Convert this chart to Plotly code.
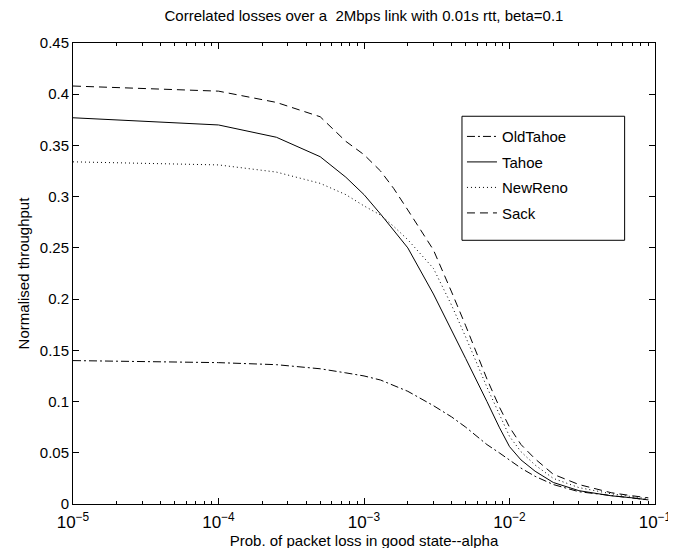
import plotly.graph_objects as go

alpha = [1e-5, 1e-4, 2.5e-4, 5e-4, 7.5e-4, 1e-3, 1.3e-3, 1.6e-3, 2e-3, 3e-3, 4e-3, 5e-3,
         7e-3, 8.5e-3, 1e-2, 1.2e-2, 1.5e-2, 2e-2, 3e-2, 5e-2, 7e-2, 9e-2]

old_tahoe = [0.140, 0.138, 0.136, 0.132, 0.128, 0.125, 0.121, 0.116, 0.110, 0.096, 0.085, 0.075,
             0.058, 0.050, 0.043, 0.035, 0.027, 0.019, 0.012, 0.008, 0.006, 0.004]
tahoe = [0.377, 0.370, 0.358, 0.339, 0.319, 0.302, 0.283, 0.267, 0.250, 0.205, 0.170, 0.142,
         0.100, 0.075, 0.056, 0.043, 0.032, 0.021, 0.013, 0.008, 0.006, 0.004]
new_reno = [0.334, 0.331, 0.324, 0.313, 0.302, 0.291, 0.282, 0.271, 0.258, 0.230, 0.194, 0.163,
            0.114, 0.087, 0.066, 0.051, 0.038, 0.025, 0.016, 0.010, 0.007, 0.005]
sack = [0.408, 0.403, 0.392, 0.378, 0.354, 0.341, 0.325, 0.308, 0.287, 0.248, 0.207, 0.174,
        0.122, 0.095, 0.075, 0.058, 0.044, 0.029, 0.019, 0.011, 0.008, 0.006]

series = [
    ("OldTahoe", old_tahoe, "8px,3px,2px,3px"),
    ("Tahoe", tahoe, "solid"),
    ("NewReno", new_reno, "1px,3px"),
    ("Sack", sack, "8px,5px"),
]

x_tickvals = [1e-5, 1e-4, 1e-3, 1e-2, 1e-1]
x_ticktext = ["10<sup>−5</sup>", "10<sup>−4</sup>", "10<sup>−3</sup>", "10<sup>−2</sup>", "10<sup>−1</sup>"]

title_text = "Correlated losses over a&nbsp; 2Mbps link with 0.01s rtt, beta=0.1"
x_title = "Prob. of packet loss in good state--alpha"
y_title = "Normalised throughput"

FONT = "Liberation Sans, Arial, Helvetica, sans-serif"

fig = go.Figure()
for i, (name, vals, dash) in enumerate(series):
    fig.add_trace(go.Scatter(
        x=alpha, y=vals, mode="lines", name=name, legendgroup=f"g{i}",
        line=dict(color="black", width=1, dash=dash),
    ))

# plot-area pixel geometry
L, R, T, B = 65, 659, 35, 507
W, H = 676, 548
pw, ph = R - L, B - T

def px_x(p):
    return (p - L) / pw

def px_y(p):
    return (B - p) / ph

fig.add_shape(type="rect", xref="paper", yref="paper",
              x0=px_x(462), x1=px_x(628), y0=px_y(237), y1=px_y(110),
              line=dict(color="black", width=1), fillcolor="white", layer="above")

fig.update_layout(
    width=W, height=H,
    margin=dict(l=L, r=W - R, t=T, b=H - B),
    paper_bgcolor="white", plot_bgcolor="white",
    font=dict(family=FONT, size=14, color="black"),
    title=dict(text=title_text, x=0.5, xref="paper", xanchor="center",
               y=1 - 8 / H, yref="container", yanchor="middle",
               font=dict(size=15, family=FONT, color="black")),
    showlegend=True,
    legend=dict(x=px_x(462), y=px_y(114), xanchor="left", yanchor="top",
                bgcolor="rgba(0,0,0,0)", borderwidth=0, tracegroupgap=3,
                font=dict(size=15, family=FONT, color="black")),
    xaxis=dict(type="log", range=[-5, -1],
               tickmode="array", tickvals=x_tickvals, ticktext=x_ticktext,
               showline=True, linecolor="black", linewidth=1, mirror="ticks",
               ticks="inside", ticklen=6, tickcolor="black",
               showgrid=False, zeroline=False,
               minor=dict(ticks="inside", ticklen=3, tickcolor="black", showgrid=False,
                          dtick="D1"),
               tickfont=dict(size=17), ticklabelstandoff=3, ticklabeloverflow="allow",
               title=dict(text=x_title, standoff=1, font=dict(size=15))),
    yaxis=dict(range=[0, 0.45], dtick=0.05, tick0=0,
               showline=True, linecolor="black", linewidth=1, mirror="ticks",
               ticks="inside", ticklen=6, tickcolor="black",
               showgrid=False, zeroline=False,
               tickfont=dict(size=15),
               title=dict(text=y_title, standoff=6, font=dict(size=15))),
)

fig.write_html("out.html")
